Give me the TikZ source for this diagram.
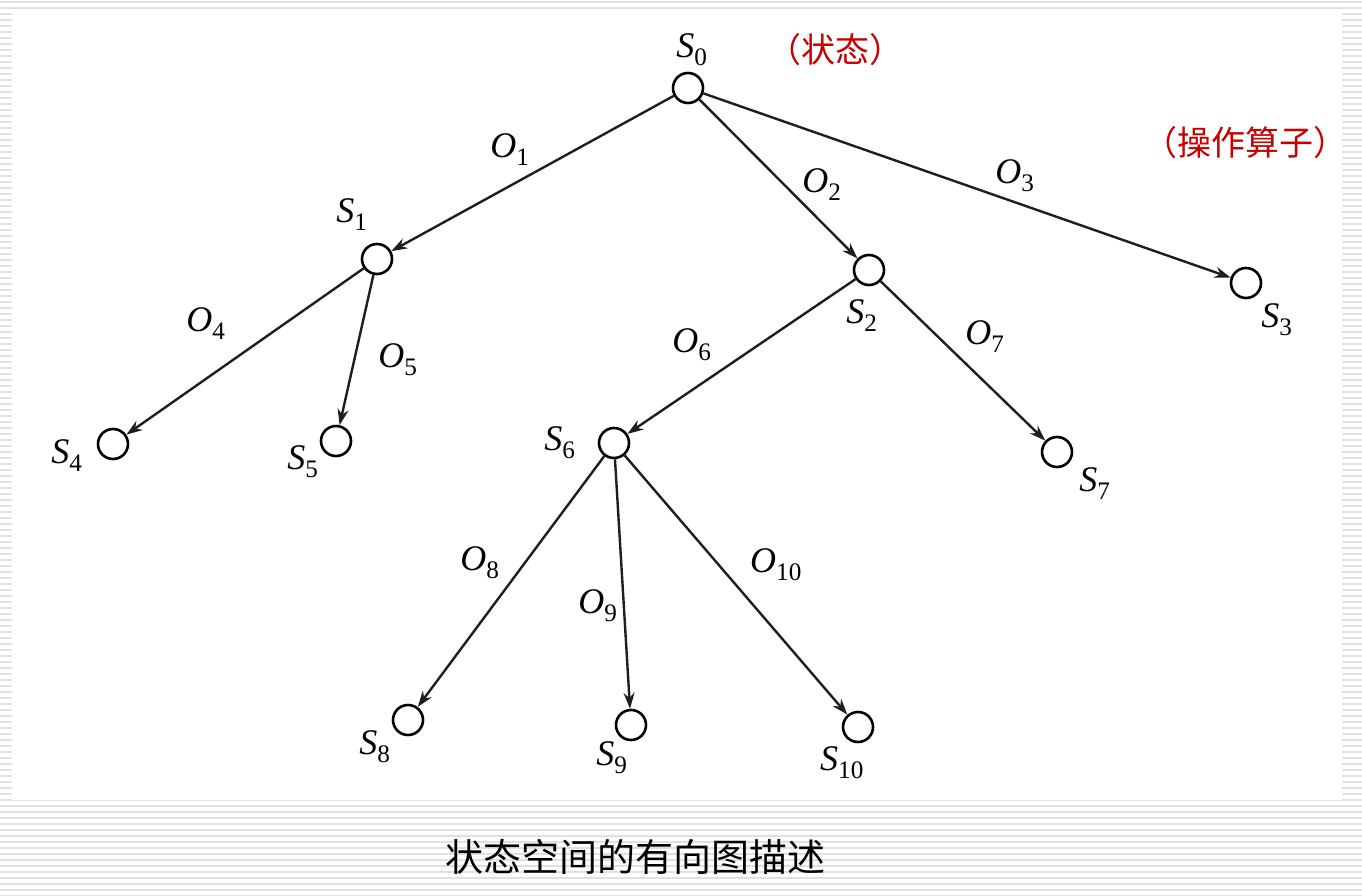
\documentclass[tikz,border=0pt]{standalone}
\usepackage{fontspec}
\setmainfont{Liberation Serif}
\newfontfamily\cjk{Noto Sans CJK SC}
\usetikzlibrary{arrows.meta}
\tikzset{every picture/.style={line width=2pt}}
\tikzset{
  state/.style={draw,circle,minimum size=30pt,inner sep=0pt,line width=2.6pt},
  lbl/.style={inner sep=0pt,font=\fontsize{36}{38}\selectfont\itshape},
  note/.style={inner sep=0pt,text={rgb,255:red,200;green,0;blue,0},font=\cjk\fontsize{34}{36}\selectfont},
  op/.style={-{Stealth[length=16pt,width=11pt]},line width=2.4pt,color={rgb,255:red,30;green,30;blue,30}}
}
\newcommand{\sub}[2]{#1\textsubscript{\upshape #2}}

\begin{document}
\begin{tikzpicture}[x=1pt,y=1pt,yscale=-1,xscale=1]
\useasboundingbox (0,0) rectangle (1362,896);
%background stripes
\foreach \y in {2,8,...,896} {
  \draw[line width=1.2pt,color=black!12] (0,\y) -- (1362,\y);
}
\fill[white] (12,12) rectangle (1342,800);

%states
\node[state] (s0) at (688,88) {};
\node[state] (s1) at (377,259) {};
\node[state] (s2) at (869,270) {};
\node[state] (s3) at (1246,283) {};
\node[state] (s4) at (113,444) {};
\node[state] (s5) at (336,441) {};
\node[state] (s6) at (614,443) {};
\node[state] (s7) at (1057,452) {};
\node[state] (s8) at (408,720) {};
\node[state] (s9) at (631,725) {};
\node[state] (s10) at (858,727) {};

%operators
\draw[op] (s0) -- (s1);
\draw[op] (s0) -- (s2);
\draw[op] (s0) -- (s3);
\draw[op] (s1) -- (s4);
\draw[op] (s1) -- (s5);
\draw[op] (s2) -- (s6);
\draw[op] (s2) -- (s7);
\draw[op] (s6) -- (s8);
\draw[op] (s6) -- (s9);
\draw[op] (s6) -- (s10);

%state labels
\node[lbl] (l0) at (692,50) {\sub{S}{0}};
\node[lbl] (l1) at (352,215) {\sub{S}{1}};
\node[lbl] (l2) at (862,316) {\sub{S}{2}};
\node[lbl] (l3) at (1277,320) {\sub{S}{3}};
\node[lbl] (l4) at (67,456) {\sub{S}{4}};
\node[lbl] (l5) at (303,462) {\sub{S}{5}};
\node[lbl] (l6) at (560,443) {\sub{S}{6}};
\node[lbl] (l7) at (1095,484) {\sub{S}{7}};
\node[lbl] (l8) at (375,747) {\sub{S}{8}};
\node[lbl] (l9) at (612,758) {\sub{S}{9}};
\node[lbl] (l10) at (842,763) {\sub{S}{10}};

%operator labels
\node[lbl] (o1) at (510,150) {\sub{O}{1}};
\node[lbl] (o2) at (822,185) {\sub{O}{2}};
\node[lbl] (o3) at (1015,176) {\sub{O}{3}};
\node[lbl] (o4) at (206,324) {\sub{O}{4}};
\node[lbl] (o5) at (398,360) {\sub{O}{5}};
\node[lbl] (o6) at (692,345) {\sub{O}{6}};
\node[lbl] (o7) at (985,337) {\sub{O}{7}};
\node[lbl] (o8) at (480,563) {\sub{O}{8}};
\node[lbl] (o9) at (598,606) {\sub{O}{9}};
\node[lbl] (o10) at (776,565) {\sub{O}{10}};

%notes
\node[note] (n1) at (835,50) {（状态）};
\node[note] (n2) at (1245,143) {（操作算子）};
\node[inner sep=0pt,font=\cjk\fontsize{38}{40}\selectfont] (cap) at (635,857) {状态空间的有向图描述};
\end{tikzpicture}
\end{document}
